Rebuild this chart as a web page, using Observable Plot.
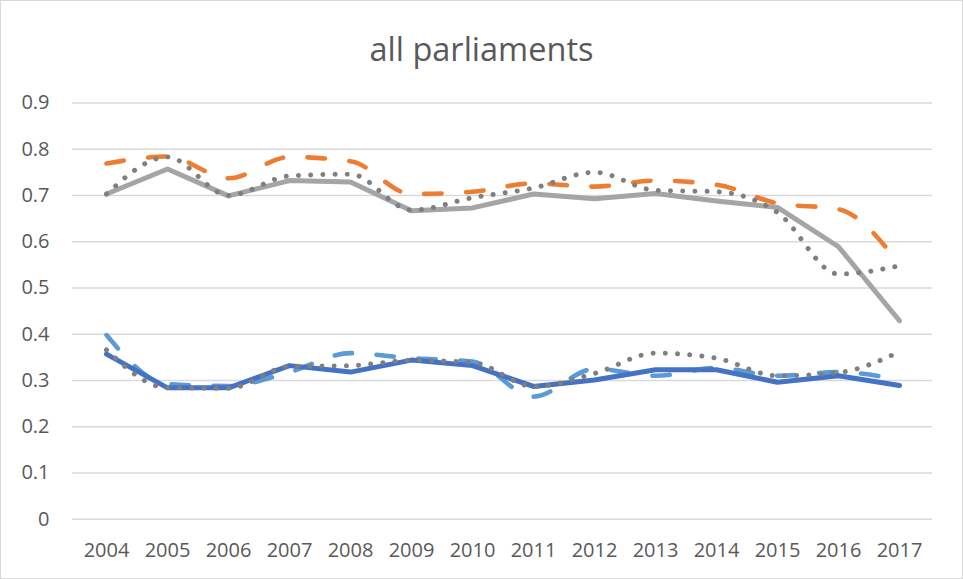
<!DOCTYPE html>
<html>
<head>
<meta charset="utf-8">
<script src="https://cdn.jsdelivr.net/npm/d3@7"></script>
<script src="https://cdn.jsdelivr.net/npm/@observablehq/plot@0.6"></script>
<style>
  html, body { margin: 0; padding: 0; background: #fff; }
  #chart { position: relative; width: 963px; height: 579px; overflow: hidden; }
  #frame { position: absolute; left: 0; top: 0; width: 963px; height: 579px; box-sizing: border-box; border: 1px solid #d9d9d9; pointer-events: none; }
  #title { height: 80px; box-sizing: border-box; padding-top: 26px; text-align: center;
           font-family: "Open Sans", sans-serif; font-size: 32.5px; color: #595959; line-height: normal; white-space: nowrap; }
  svg { display: block; }
</style>
</head>
<body>
<div id="chart">
  <div id="title">all parliaments</div>
  <div id="plot"></div>
  <div id="frame"></div>
</div>
<script>
const years = ["2004","2005","2006","2007","2008","2009","2010","2011","2012","2013","2014","2015","2016","2017"];
const yTicks = [0, 0.1, 0.2, 0.3, 0.4, 0.5, 0.6, 0.7, 0.8, 0.9];

// upper group
const upperSolid  = [0.703, 0.757, 0.699, 0.732, 0.729, 0.667, 0.673, 0.703, 0.693, 0.704, 0.688, 0.674, 0.589, 0.429];
const upperDashed = [0.769, 0.784, 0.737, 0.783, 0.774, 0.703, 0.708, 0.726, 0.719, 0.732, 0.723, 0.683, 0.670, 0.552];
const upperDotted = [0.703, 0.783, 0.700, 0.742, 0.746, 0.668, 0.695, 0.716, 0.750, 0.711, 0.708, 0.663, 0.530, 0.548];
// lower group
const lowerSolid  = [0.357, 0.284, 0.284, 0.332, 0.318, 0.344, 0.332, 0.287, 0.301, 0.323, 0.323, 0.296, 0.310, 0.289];
const lowerDashed = [0.398, 0.292, 0.288, 0.318, 0.359, 0.348, 0.341, 0.265, 0.325, 0.310, 0.327, 0.310, 0.318, 0.301];
const lowerDotted = [0.366, 0.284, 0.283, 0.330, 0.332, 0.343, 0.339, 0.287, 0.315, 0.359, 0.348, 0.310, 0.317, 0.362];

const toRows = arr => years.map((year, i) => ({year, v: arr[i]}));

const solid = (arr, color) => Plot.line(toRows(arr), {x: "year", y: "v", stroke: color, strokeWidth: 5, strokeLinejoin: "round", strokeLinecap: "round", curve: "linear"});
const dashed = (arr, color) => Plot.line(toRows(arr), {x: "year", y: "v", stroke: color, strokeWidth: 4.6, strokeLinecap: "round", strokeDasharray: "17.5,24.5", curve: "monotone-x"});
const dotted = (arr, color) => Plot.line(toRows(arr), {x: "year", y: "v", stroke: color, strokeWidth: 5, strokeLinecap: "round", strokeDasharray: "0.01,12.2", curve: "monotone-x"});

const chart = Plot.plot({
  width: 963,
  height: 499,
  marginTop: 22.4,
  marginBottom: 60.3,
  marginLeft: 72,
  marginRight: 31,
  style: {fontFamily: "Open Sans, sans-serif", fontSize: "20px", color: "#595959", background: "transparent"},
  x: {type: "point", domain: years, padding: 0.5, label: null},
  y: {domain: [0, 0.9], label: null},
  marks: [
    Plot.gridY(yTicks, {stroke: "#d9d9d9", strokeOpacity: 1, strokeWidth: 1.5}),
    Plot.axisY(yTicks, {tickSize: 0, tickPadding: 23, tickFormat: d => String(+d.toFixed(1)), label: null}),
    Plot.axisX({tickSize: 0, tickPadding: 24, label: null}),
    solid(upperSolid, "#a5a5a5"),
    dashed(upperDashed, "#ed7d31"),
    dashed(lowerDashed, "#5b9bd5"),
    solid(lowerSolid, "#4472c4"),
    dotted(upperDotted, "#7f7f7f"),
    dotted(lowerDotted, "#7f7f7f")
  ]
});
document.getElementById("plot").appendChild(chart);
</script>
</body>
</html>
